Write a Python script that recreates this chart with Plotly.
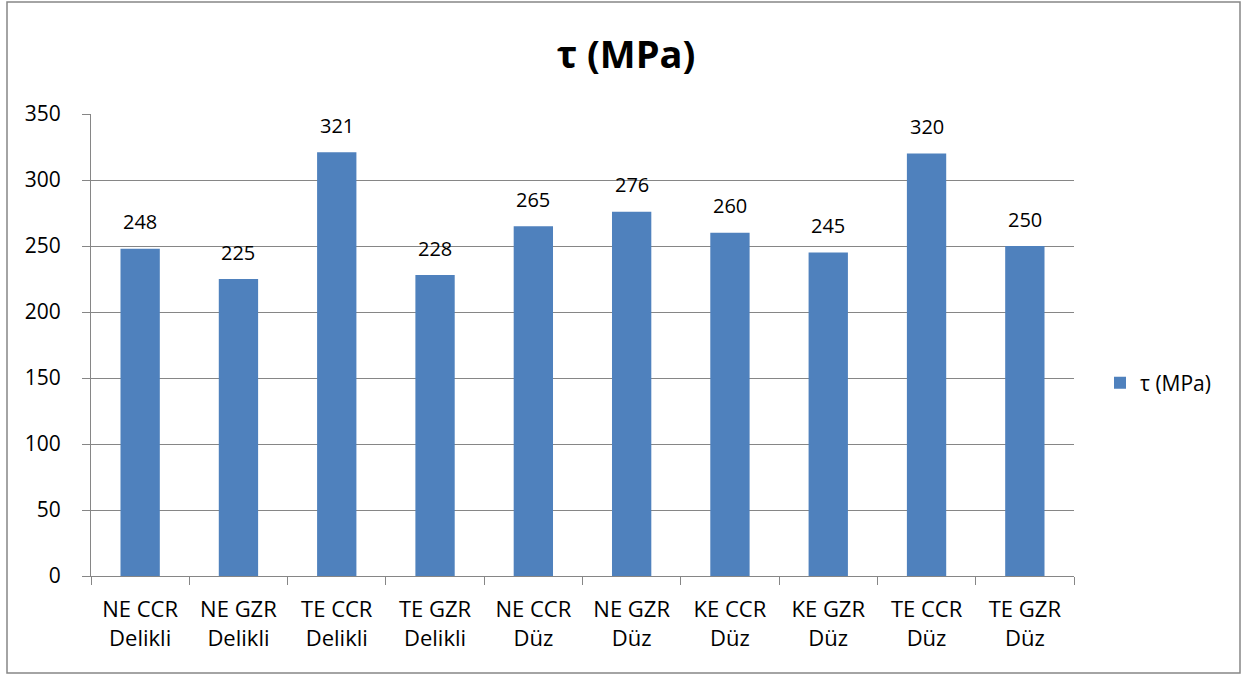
import plotly.graph_objects as go

categories = ["NE CCR<br>Delikli", "NE GZR<br>Delikli", "TE CCR<br>Delikli", "TE GZR<br>Delikli",
              "NE CCR<br>Düz", "NE GZR<br>Düz", "KE CCR<br>Düz", "KE GZR<br>Düz",
              "TE CCR<br>Düz", "TE GZR<br>Düz"]
values = [248, 225, 321, 228, 265, 276, 260, 245, 320, 250]
series_name = "τ (MPa)"
y_ticks = [0, 50, 100, 150, 200, 250, 300, 350]

FONT = "Open Sans, Liberation Sans, sans-serif"
GRID = "#868686"

fig = go.Figure()
fig.add_trace(go.Bar(
    x=categories, y=values, name=series_name,
    marker=dict(color="#4f81bd", line=dict(width=0)),
    width=0.4, showlegend=True,
))

for c, v in zip(categories, values):
    fig.add_annotation(x=c, y=v, text=str(v), showarrow=False,
                       yanchor="middle", yshift=27,
                       font=dict(size=20, color="black", family=FONT))

L, R, T, B = 91, 1074, 114, 576
W, H = 1250, 677

def px(x):
    return (x - L) / (R - L)

def py(y):
    return (B - y) / (B - T)

fig.update_layout(
    width=W, height=H,
    margin=dict(l=L, r=W - R, t=T, b=H - B, pad=0),
    paper_bgcolor="white", plot_bgcolor="white",
    font=dict(family=FONT, size=20, color="black"),
    title=dict(text="<b>τ (MPa)</b>", x=626 / W, xref="container", xanchor="center",
               y=1 - 55 / H, yref="container", yanchor="middle",
               font=dict(size=38, family=FONT, color="black")),
    showlegend=True,
    legend=dict(x=px(1100), y=py(383), xanchor="left", yanchor="middle",
                font=dict(size=21, family=FONT), bgcolor="rgba(0,0,0,0)",
                itemwidth=30),
)
fig.update_xaxes(
    type="category", showline=True, linecolor=GRID, linewidth=1,
    ticks="outside", tickson="boundaries", ticklen=8, tickcolor=GRID,
    showgrid=False, tickfont=dict(size=22, family=FONT, color="black"),
    ticklabelstandoff=14, automargin=False,
)
fig.update_yaxes(
    range=[0, 350], tickvals=y_ticks, showline=True, linecolor=GRID, linewidth=1,
    ticks="outside", ticklen=8, tickcolor=GRID,
    showgrid=True, gridcolor=GRID, gridwidth=1, zeroline=False,
    tickfont=dict(size=21, family=FONT, color="black"),
    ticklabelstandoff=17, automargin=False,
)
fig.add_shape(type="rect", xref="paper", yref="paper",
              x0=px(7), x1=px(1240), y0=py(673), y1=py(2),
              line=dict(color="#868686", width=1.5), fillcolor="rgba(0,0,0,0)", layer="below")

fig.write_html("out.html", config={"displayModeBar": False},
               post_script="document.body.style.margin='0';")
